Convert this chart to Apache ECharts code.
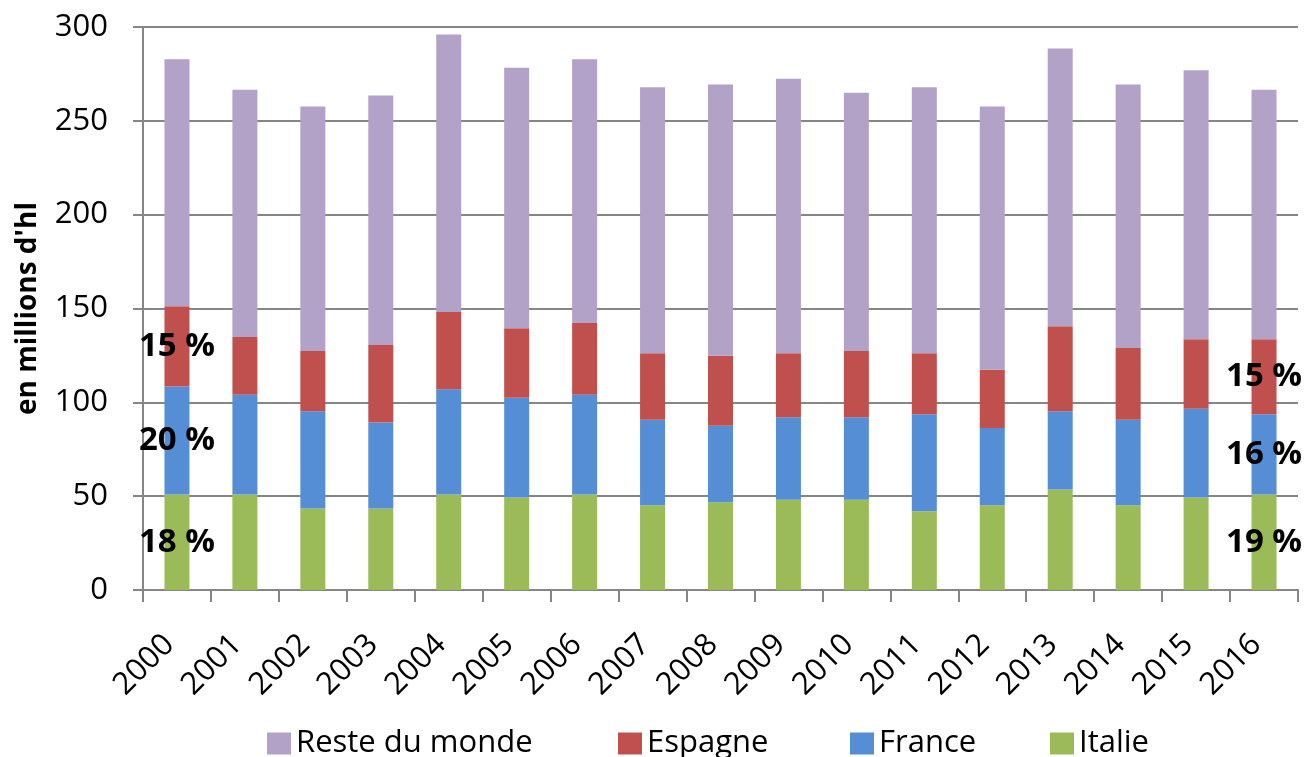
<!DOCTYPE html>
<html><head><meta charset="utf-8">
<script src="https://cdn.jsdelivr.net/npm/echarts@6/dist/echarts.min.js"></script>
<style>html,body{margin:0;padding:0;background:#fff}#c{width:1308px;height:757px}</style>
</head><body><div id="c"></div>
<script>
const years = ['2000','2001','2002','2003','2004','2005','2006','2007','2008','2009','2010','2011','2012','2013','2014','2015','2016'];
const italie  = [50.9,50.9,43.4,43.4,50.9,49.3,50.9,45.1,46.7,48.1,48.1,42.0,45.1,53.6,45.1,49.3,50.9];
const france  = [57.5,53.2,51.8,45.9,56.1,53.2,53.2,45.6,40.8,43.9,43.9,51.6,41.2,41.6,45.6,47.3,42.7];
const espagne = [42.8,30.7,32.1,41.2,41.2,37.0,38.2,35.4,37.3,34.1,35.3,32.5,31.0,45.3,38.2,37.0,40.0];
const reste   = [131.6,131.7,130.3,133.0,147.8,138.8,140.5,141.8,144.6,146.3,137.6,141.8,140.3,148.1,140.5,143.3,132.9];
const yTicks = [0,50,100,150,200,250,300];
const seriesNames = ['Reste du monde','Espagne','France','Italie'];
// share labels for first (2000) and last (2016) year
const italiePct  = ['18 %','19 %'];
const francePct  = ['20 %','16 %'];
const espagnePct = ['15 %','15 %'];
const FONT = 'Open Sans';

function withLabels(vals, pcts){
  return vals.map((v,i)=>{
    if(i===0) return {value:v,label:{show:true,formatter:pcts[0]}};
    if(i===vals.length-1) return {value:v,label:{show:true,formatter:pcts[1]}};
    return v;
  });
}
const lbl = {show:false,position:'inside',color:'#000',fontFamily:FONT,fontWeight:'bold',fontSize:33};
const legendLefts = [262,613,845,1045];
const chart = echarts.init(document.getElementById('c'));
chart.setOption({
  animation:false,
  backgroundColor:'#fff',
  textStyle:{fontFamily:FONT},
  grid:{left:143,right:10,top:27,bottom:167,containLabel:false},
  legend: seriesNames.map((n,i)=>({
    data:[n], left:legendLefts[i], top:723, itemWidth:24, itemHeight:22, icon:'rect',
    textStyle:{fontFamily:FONT,fontSize:31,color:'#000',padding:[0,0,0,0]}
  })),
  xAxis:{
    type:'category', data:years,
    axisLine:{lineStyle:{color:'#868686',width:2}},
    axisTick:{show:true,length:12,lineStyle:{color:'#868686',width:2}},
    axisLabel:{rotate:45,fontSize:31,color:'#000',margin:42,padding:[0,11,0,0],fontFamily:FONT,interval:0}
  },
  yAxis:{
    type:'value', min:yTicks[0], max:yTicks[yTicks.length-1], interval:50,
    name:"en millions d'hl", nameLocation:'middle', nameRotate:90, nameGap:101,
    nameTextStyle:{fontFamily:FONT,fontSize:28,fontWeight:'bold',color:'#000'},
    axisLine:{show:true,lineStyle:{color:'#868686',width:2}},
    axisTick:{show:true,length:10,lineStyle:{color:'#868686',width:2}},
    axisLabel:{fontSize:31,color:'#000',margin:35,fontFamily:FONT},
    splitLine:{lineStyle:{color:'#868686',width:2}}
  },
  series:[
    {name:'Italie',type:'bar',stack:'t',barWidth:25,data:withLabels(italie,italiePct),itemStyle:{color:'#9BBB59'},label:lbl},
    {name:'France',type:'bar',stack:'t',barWidth:25,data:withLabels(france,francePct),itemStyle:{color:'#558ED5'},label:lbl},
    {name:'Espagne',type:'bar',stack:'t',barWidth:25,data:withLabels(espagne,espagnePct),itemStyle:{color:'#C0504D'},label:lbl},
    {name:'Reste du monde',type:'bar',stack:'t',barWidth:25,data:reste,itemStyle:{color:'#B3A2C7'}}
  ]
});
</script></body></html>
